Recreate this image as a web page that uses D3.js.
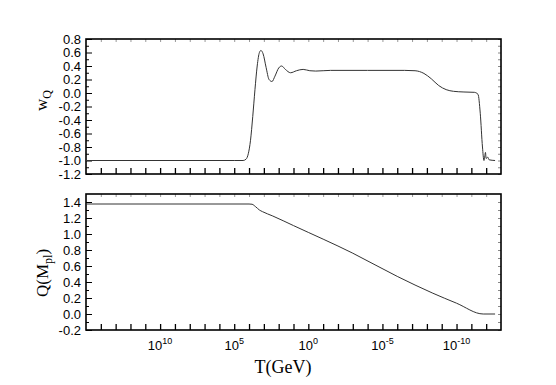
<!DOCTYPE html>
<html>
<head>
<meta charset="utf-8">
<script src="https://cdn.jsdelivr.net/npm/d3@7"></script>
<style>
  body { margin: 0; background: white; }
  .tick text { font-family: "Liberation Sans", Arial, sans-serif; font-size: 13px; fill: #000; }
</style>
</head>
<body>
<svg id="canvas" width="556" height="385"></svg>
<script>
// log10(T/GeV) sample points (T decreases to the right)
let wLogT = [15, 5.0, 4.4, 4.2, 4.05, 3.9, 3.75, 3.6, 3.45, 3.3, 3.2, 3.05, 2.85, 2.65, 2.45, 2.25, 2.0, 1.8, 1.55, 1.2, 0.8, 0.35, -0.1, -0.5, -1.5, -4, -6.5, -7.2, -7.8, -8.3, -8.8, -9.3, -9.8, -10.5, -11.2, -11.45, -11.6, -11.75, -11.85, -11.9, -11.95, -12.0, -12.1, -12.2, -12.6];
let wValues = [-1.0, -1.0, -1.0, -0.98, -0.9, -0.7, -0.35, 0.05, 0.4, 0.6, 0.63, 0.58, 0.38, 0.2, 0.17, 0.25, 0.37, 0.40, 0.35, 0.30, 0.33, 0.35, 0.33, 0.325, 0.335, 0.335, 0.335, 0.33, 0.29, 0.21, 0.11, 0.05, 0.025, 0.015, 0.01, -0.02, -0.3, -0.8, -1.0, -0.95, -0.88, -0.97, -0.95, -0.99, -1.0];

let qLogT = [15, 4.0, 3.8, 3.55, 3.3, 3.1, 2.4, 1.0, -3.0, -6.0, -8.4, -10.0, -11.8, -12.6];
let qValues = [1.375, 1.375, 1.372, 1.34, 1.30, 1.28, 1.225, 1.105, 0.76, 0.47, 0.26, 0.135, 0.0, 0.0];

// tick labels
let wTicks = [0.8, 0.6, 0.4, 0.2, 0.0, -0.2, -0.4, -0.6, -0.8, -1.0, -1.2];
let qTicks = [1.4, 1.2, 1.0, 0.8, 0.6, 0.4, 0.2, 0.0, -0.2];
let xTickExps = d3.range(-12, 15);
let xLabelExps = [10, 5, 0, -5, -10];

let canvas = d3.select('#canvas');

let left = 86, right = 501;
let x = d3.scaleLog().domain([1e15, 1e-13]).range([left, right]);

let panels = [
    {top: 39, bottom: 174, domain: [-1.2, 0.8], ticks: wTicks, logT: wLogT, vals: wValues, xLabels: false},
    {top: 194, bottom: 330, domain: [-0.2, 1.5], ticks: qTicks, logT: qLogT, vals: qValues, xLabels: true}
];

panels.forEach(p => {
    let y = d3.scaleLinear().domain(p.domain).range([p.bottom, p.top]);
    let h = p.bottom - p.top;
    let g = canvas.append('g');

    // minor y ticks (every 0.1)
    let minors = d3.range(0, 40).map(i => Math.round((p.domain[0] + 0.1 + i * 0.2) * 10) / 10)
        .filter(v => v < p.domain[1]);

    g.append('g')
        .attr('transform', `translate(${left},0)`)
        .call(d3.axisLeft(y).tickValues(minors).tickSize(-3).tickFormat(''))
        .call(a => a.select('.domain').remove());

    g.append('g')
        .attr('transform', `translate(${left},0)`)
        .call(d3.axisLeft(y).tickValues(p.ticks).tickSize(-6).tickPadding(5)
            .tickFormat(d => d.toFixed(1)))
        .call(a => a.select('.domain').remove());

    // right side mirror ticks
    g.append('g')
        .attr('transform', `translate(${right},0)`)
        .call(d3.axisRight(y).tickValues(p.ticks.concat(minors)).tickSize(-3).tickFormat(''))
        .call(a => a.select('.domain').remove())
        .selectAll('line').attr('stroke', '#888');

    // x ticks on bottom (inward) and faint ones on top
    g.append('g')
        .attr('transform', `translate(0,${p.bottom})`)
        .call(d3.axisBottom(x).tickValues(xTickExps.map(e => Math.pow(10, e))).tickSize(-6).tickFormat(''))
        .call(a => a.select('.domain').remove())
        .selectAll('line').attr('stroke-width', 1.3);

    g.append('g')
        .attr('transform', `translate(0,${p.top})`)
        .call(d3.axisTop(x).tickValues(xTickExps.map(e => Math.pow(10, e))).tickSize(-3).tickFormat(''))
        .call(a => a.select('.domain').remove())
        .selectAll('line').attr('stroke', '#999');

    // frame
    g.append('rect')
        .attr('x', left).attr('y', p.top)
        .attr('width', right - left).attr('height', h)
        .attr('fill', 'none').attr('stroke', '#000').attr('stroke-width', 1.6);

    // curve
    let pts = p.logT.map((l, i) => [Math.pow(10, l), p.vals[i]]);
    let line = d3.line()
        .x(d => x(d[0]))
        .y(d => y(d[1]))
        .curve(d3.curveMonotoneX);
    g.append('path')
        .datum(pts)
        .attr('d', line)
        .attr('fill', 'none')
        .attr('stroke', '#333')
        .attr('stroke-width', 1);

    if (p.xLabels) {
        xLabelExps.forEach(e => {
            let t = g.append('text')
                .attr('x', x(Math.pow(10, e)))
                .attr('y', p.bottom + 20)
                .attr('text-anchor', 'middle')
                .style('font-family', '"Liberation Sans", Arial, sans-serif')
                .style('font-size', '13px');
            t.append('tspan').text('10');
            t.append('tspan').attr('dy', -6).style('font-size', '9px').text(e);
        });
    }
});

// axis titles
let serif = '"Liberation Serif", "Times New Roman", serif';

let wl = canvas.append('text')
    .attr('transform', 'translate(47,111) rotate(-90)')
    .style('font-family', serif).style('font-size', '17px');
wl.append('tspan').text('w');
wl.append('tspan').attr('dy', 4).style('font-size', '12px').text('Q');

let ql = canvas.append('text')
    .attr('transform', 'translate(48,297) rotate(-90)')
    .style('font-family', serif).style('font-size', '17px');
ql.append('tspan').text('Q(M');
ql.append('tspan').attr('dy', 4).style('font-size', '12px').text('pl');
ql.append('tspan').attr('dy', -4).text(')');

canvas.append('text')
    .attr('x', 283).attr('y', 373)
    .attr('text-anchor', 'middle')
    .style('font-family', serif).style('font-size', '18px')
    .text('T(GeV)');
</script>
</body>
</html>
